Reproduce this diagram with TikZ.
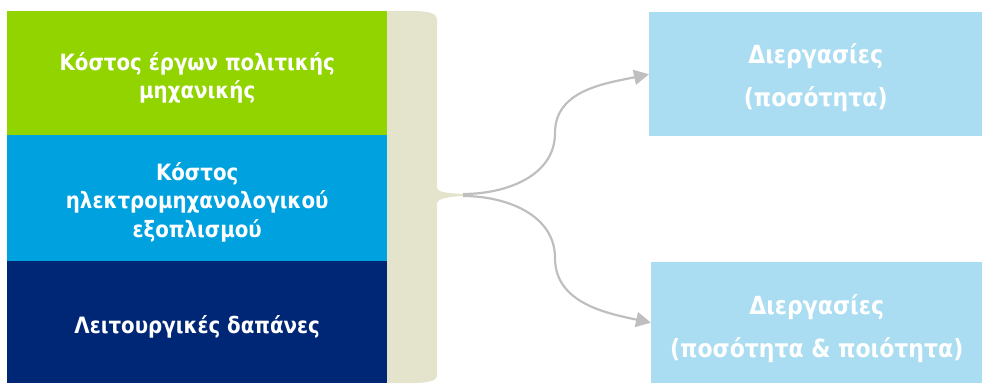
\documentclass[tikz,border=0pt]{standalone}
\usepackage{fontspec}
\setmainfont{DejaVu Sans}[FakeStretch=0.88]
\usetikzlibrary{arrows.meta}
\definecolor{cgreen}{HTML}{92D400}
\definecolor{cblue}{HTML}{00A1DF}
\definecolor{cnavy}{HTML}{002776}
\definecolor{clight}{HTML}{ABDDF2}
\definecolor{cbrace}{HTML}{E4E4CC}
\definecolor{carrow}{HTML}{BFBFBF}
\tikzset{
  costbox/.style={anchor=north west, minimum width=380pt, inner sep=0pt},
  costtext/.style={inner sep=0pt, text=white, align=center, font=\bfseries\fontsize{22.5}{28.5}\selectfont},
  procbox/.style={anchor=north west, fill=clight, inner sep=0pt},
  proctext/.style={inner sep=0pt, text=white, align=center, font=\bfseries\fontsize{25}{43}\selectfont},
  conn/.style={draw=carrow, line width=2.2pt, -{Triangle[length=15pt,width=15pt]}}
}
\begin{document}
\begin{tikzpicture}[x=1pt,y=-1pt]
\useasboundingbox (0,0) rectangle (982,383);
\node[costbox, fill=cgreen, minimum height=124pt] (g) at (7,11) {};
\node[costbox, fill=cblue, minimum height=126pt] (b) at (7,135) {};
\node[costbox, fill=cnavy, minimum height=122pt] (n) at (7,261) {};
\node[costtext] (gt) at ([yshift=-4.5pt]g.center) {Κόστος έργων πολιτικής\\μηχανικής};
\node[costtext] (bt) at ([yshift=-4pt]b.center) {Κόστος\\ηλεκτρομηχανολογικού\\εξοπλισμού};
\node[costtext] (nt) at ([yshift=-5pt]n.center) {Λειτουργικές δαπάνες};
\fill[cbrace] (387,11) -- (413,11) .. controls (430,11) and (437,14) .. (437,19)
  -- (437,188) .. controls (438,192) and (445,193) .. (463,194)
  -- (463,196) .. controls (445,197) and (438,199) .. (437,203)
  -- (437,376) .. controls (437,380) and (430,383) .. (413,383) -- (387,383) -- cycle;
\coordinate (tip) at (463,195);
\node[procbox, minimum width=333pt, minimum height=124pt] (p1) at (649,12) {};
\node[procbox, minimum width=331pt, minimum height=121pt] (p2) at (651,262) {};
\node[proctext] (p1t) at ([yshift=-3pt]p1.center) {Διεργασίες\\(ποσότητα)};
\node[proctext] (p2t) at ([yshift=-6pt]p2.center) {Διεργασίες\\(ποσότητα \& ποιότητα)};
\draw[conn] ([yshift=1pt]tip) to[out=0,in=-90] (555,133) to[out=90,in=192] (p1.west);
\draw[conn] ([yshift=-1pt]tip) to[out=0,in=90] (555,258) to[out=-90,in=168] (p2.west);
\end{tikzpicture}
\end{document}
